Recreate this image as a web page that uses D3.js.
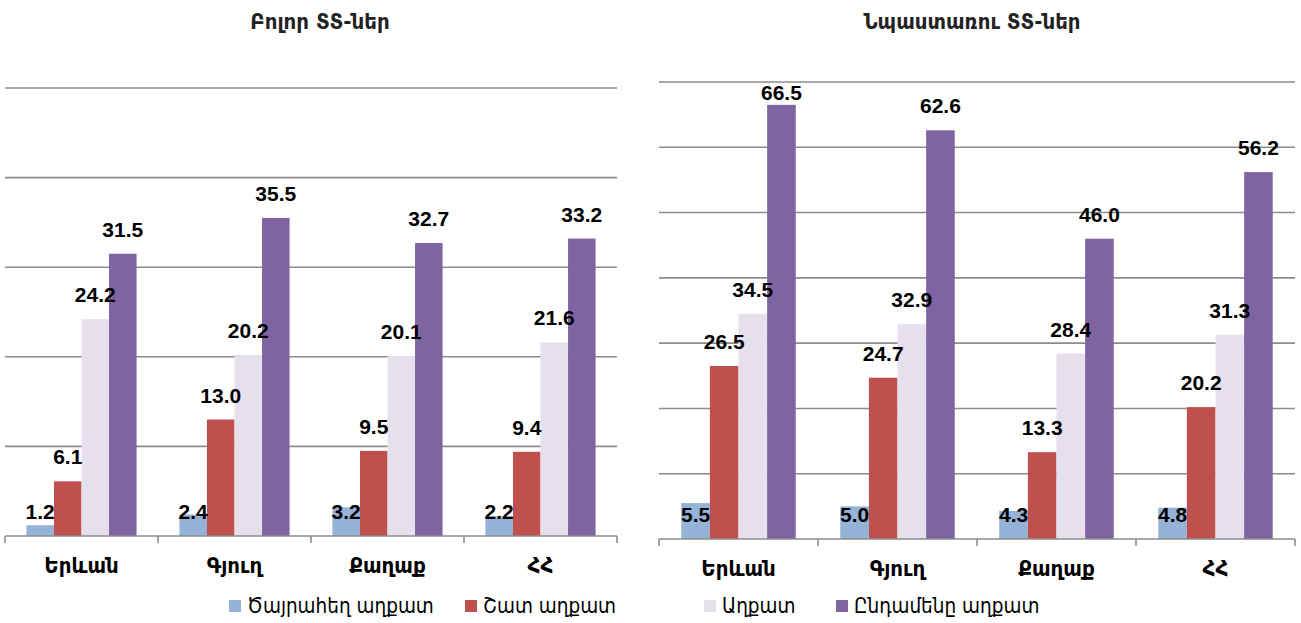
<!DOCTYPE html>
<html>
<head>
<meta charset="utf-8">
<script src="https://cdn.jsdelivr.net/npm/d3@7"></script>
<style>
  html, body { margin: 0; padding: 0; background: #fff; }
  svg { display: block; }
</style>
</head>
<body>
<svg id="chart" width="1301" height="623"></svg>
<script>
// ---- Data ----
const categories = ["Երևան", "Գյուղ", "Քաղաք", "ՀՀ"];
const seriesNames = ["Ծայրահեղ աղքատ", "Շատ աղքատ", "Աղքատ", "Ընդամենը աղքատ"];
const seriesColors = ["#95B3D7", "#C0504D", "#E6E0EC", "#8064A2"];
const titles = ["Բոլոր ՏՏ-ներ", "Նպաստառու ՏՏ-ներ"];

// All households
const allExtreme = [1.2, 2.4, 3.2, 2.2];
const allVeryPoor = [6.1, 13.0, 9.5, 9.4];
const allPoor = [24.2, 20.2, 20.1, 21.6];
const allTotal = [31.5, 35.5, 32.7, 33.2];

// Benefit-receiving households
const benExtreme = [5.5, 5.0, 4.3, 4.8];
const benVeryPoor = [26.5, 24.7, 13.3, 20.2];
const benPoor = [34.5, 32.9, 28.4, 31.3];
const benTotal = [66.5, 62.6, 46.0, 56.2];

const leftTicks = [0, 10, 20, 30, 40, 50];
const rightTicks = [0, 10, 20, 30, 40, 50, 60, 70];

const svg = d3.select("#chart");
const numFont = "'Liberation Sans', Arial, sans-serif";
const armFont = "'DejaVu Sans Condensed', 'DejaVu Sans', sans-serif";

function drawPanel(cfg) {
  const { x0, x1, yTop, yBot, ticks, series, title, titleX } = cfg;
  const g = svg.append("g");
  const y = d3.scaleLinear().domain([0, d3.max(ticks)]).range([yBot, yTop]);
  const xc = d3.scaleBand().domain(categories).range([x0, x1]).paddingInner(0.28).paddingOuter(0.14);
  const xs = d3.scaleBand().domain(d3.range(series.length)).range([0, xc.bandwidth()]).padding(0);

  // gridlines (exclude zero)
  g.append("g").selectAll("line").data(ticks.filter(t => t > 0)).join("line")
    .attr("x1", x0).attr("x2", x1)
    .attr("y1", d => y(d)).attr("y2", d => y(d))
    .attr("stroke", "#8c8c8c").attr("stroke-width", 1.6);

  // bars
  series.forEach((vals, si) => {
    g.append("g").selectAll("rect").data(vals).join("rect")
      .attr("x", (d, i) => xc(categories[i]) + xs(si))
      .attr("width", xs.bandwidth())
      .attr("y", d => y(d))
      .attr("height", d => yBot - y(d))
      .attr("fill", seriesColors[si]);
  });

  // x axis
  const bounds = d3.range(categories.length + 1).map(i => x0 + i * (x1 - x0) / categories.length);
  g.append("line").attr("x1", x0).attr("x2", x1).attr("y1", yBot).attr("y2", yBot)
    .attr("stroke", "#8c8c8c").attr("stroke-width", 1.6);
  g.append("g").selectAll("line").data(bounds).join("line")
    .attr("x1", d => d).attr("x2", d => d).attr("y1", yBot).attr("y2", yBot + 7)
    .attr("stroke", "#8c8c8c").attr("stroke-width", 1.6);

  // category labels
  g.append("g").selectAll("text").data(categories).join("text")
    .attr("x", d => xc(d) - xc.step() * 0.14 + xc.step() / 2)
    .attr("y", yBot + 37)
    .attr("text-anchor", "middle")
    .attr("font-family", armFont).attr("font-weight", "bold").attr("font-size", 22)
    .attr("fill", "#000")
    .text(d => d);

  // value labels
  series.forEach((vals, si) => {
    g.append("g").selectAll("text").data(vals).join("text")
      .attr("x", (d, i) => xc(categories[i]) + xs(si) + xs.bandwidth() / 2)
      .attr("y", d => si === 0 ? yBot - 17 : Math.max(y(d) - 17, yTop + 18))
      .attr("text-anchor", "middle")
      .attr("font-family", numFont).attr("font-weight", "bold").attr("font-size", 21)
      .attr("fill", "#000")
      .text(d => d.toFixed(1));
  });

  // title
  svg.append("text").attr("x", titleX).attr("y", 29)
    .attr("text-anchor", "middle")
    .attr("font-family", armFont).attr("font-weight", "bold").attr("font-size", 22)
    .attr("fill", "#222")
    .text(title);
}

drawPanel({ x0: 5, x1: 617, yTop: 88, yBot: 536, ticks: leftTicks,
  series: [allExtreme, allVeryPoor, allPoor, allTotal], title: titles[0], titleX: 320 });
drawPanel({ x0: 659, x1: 1295, yTop: 82, yBot: 539, ticks: rightTicks,
  series: [benExtreme, benVeryPoor, benPoor, benTotal], title: titles[1], titleX: 972 });

// legend
const legendX = [229, 465, 704, 836];
const lg = svg.append("g");
seriesNames.forEach((name, i) => {
  lg.append("rect").attr("x", legendX[i]).attr("y", 600).attr("width", 12).attr("height", 12)
    .attr("fill", seriesColors[i]);
  lg.append("text").attr("x", legendX[i] + 18).attr("y", 613)
    .attr("font-family", armFont).attr("font-size", 20.5).attr("fill", "#000")
    .text(name);
});
</script>
</body>
</html>
